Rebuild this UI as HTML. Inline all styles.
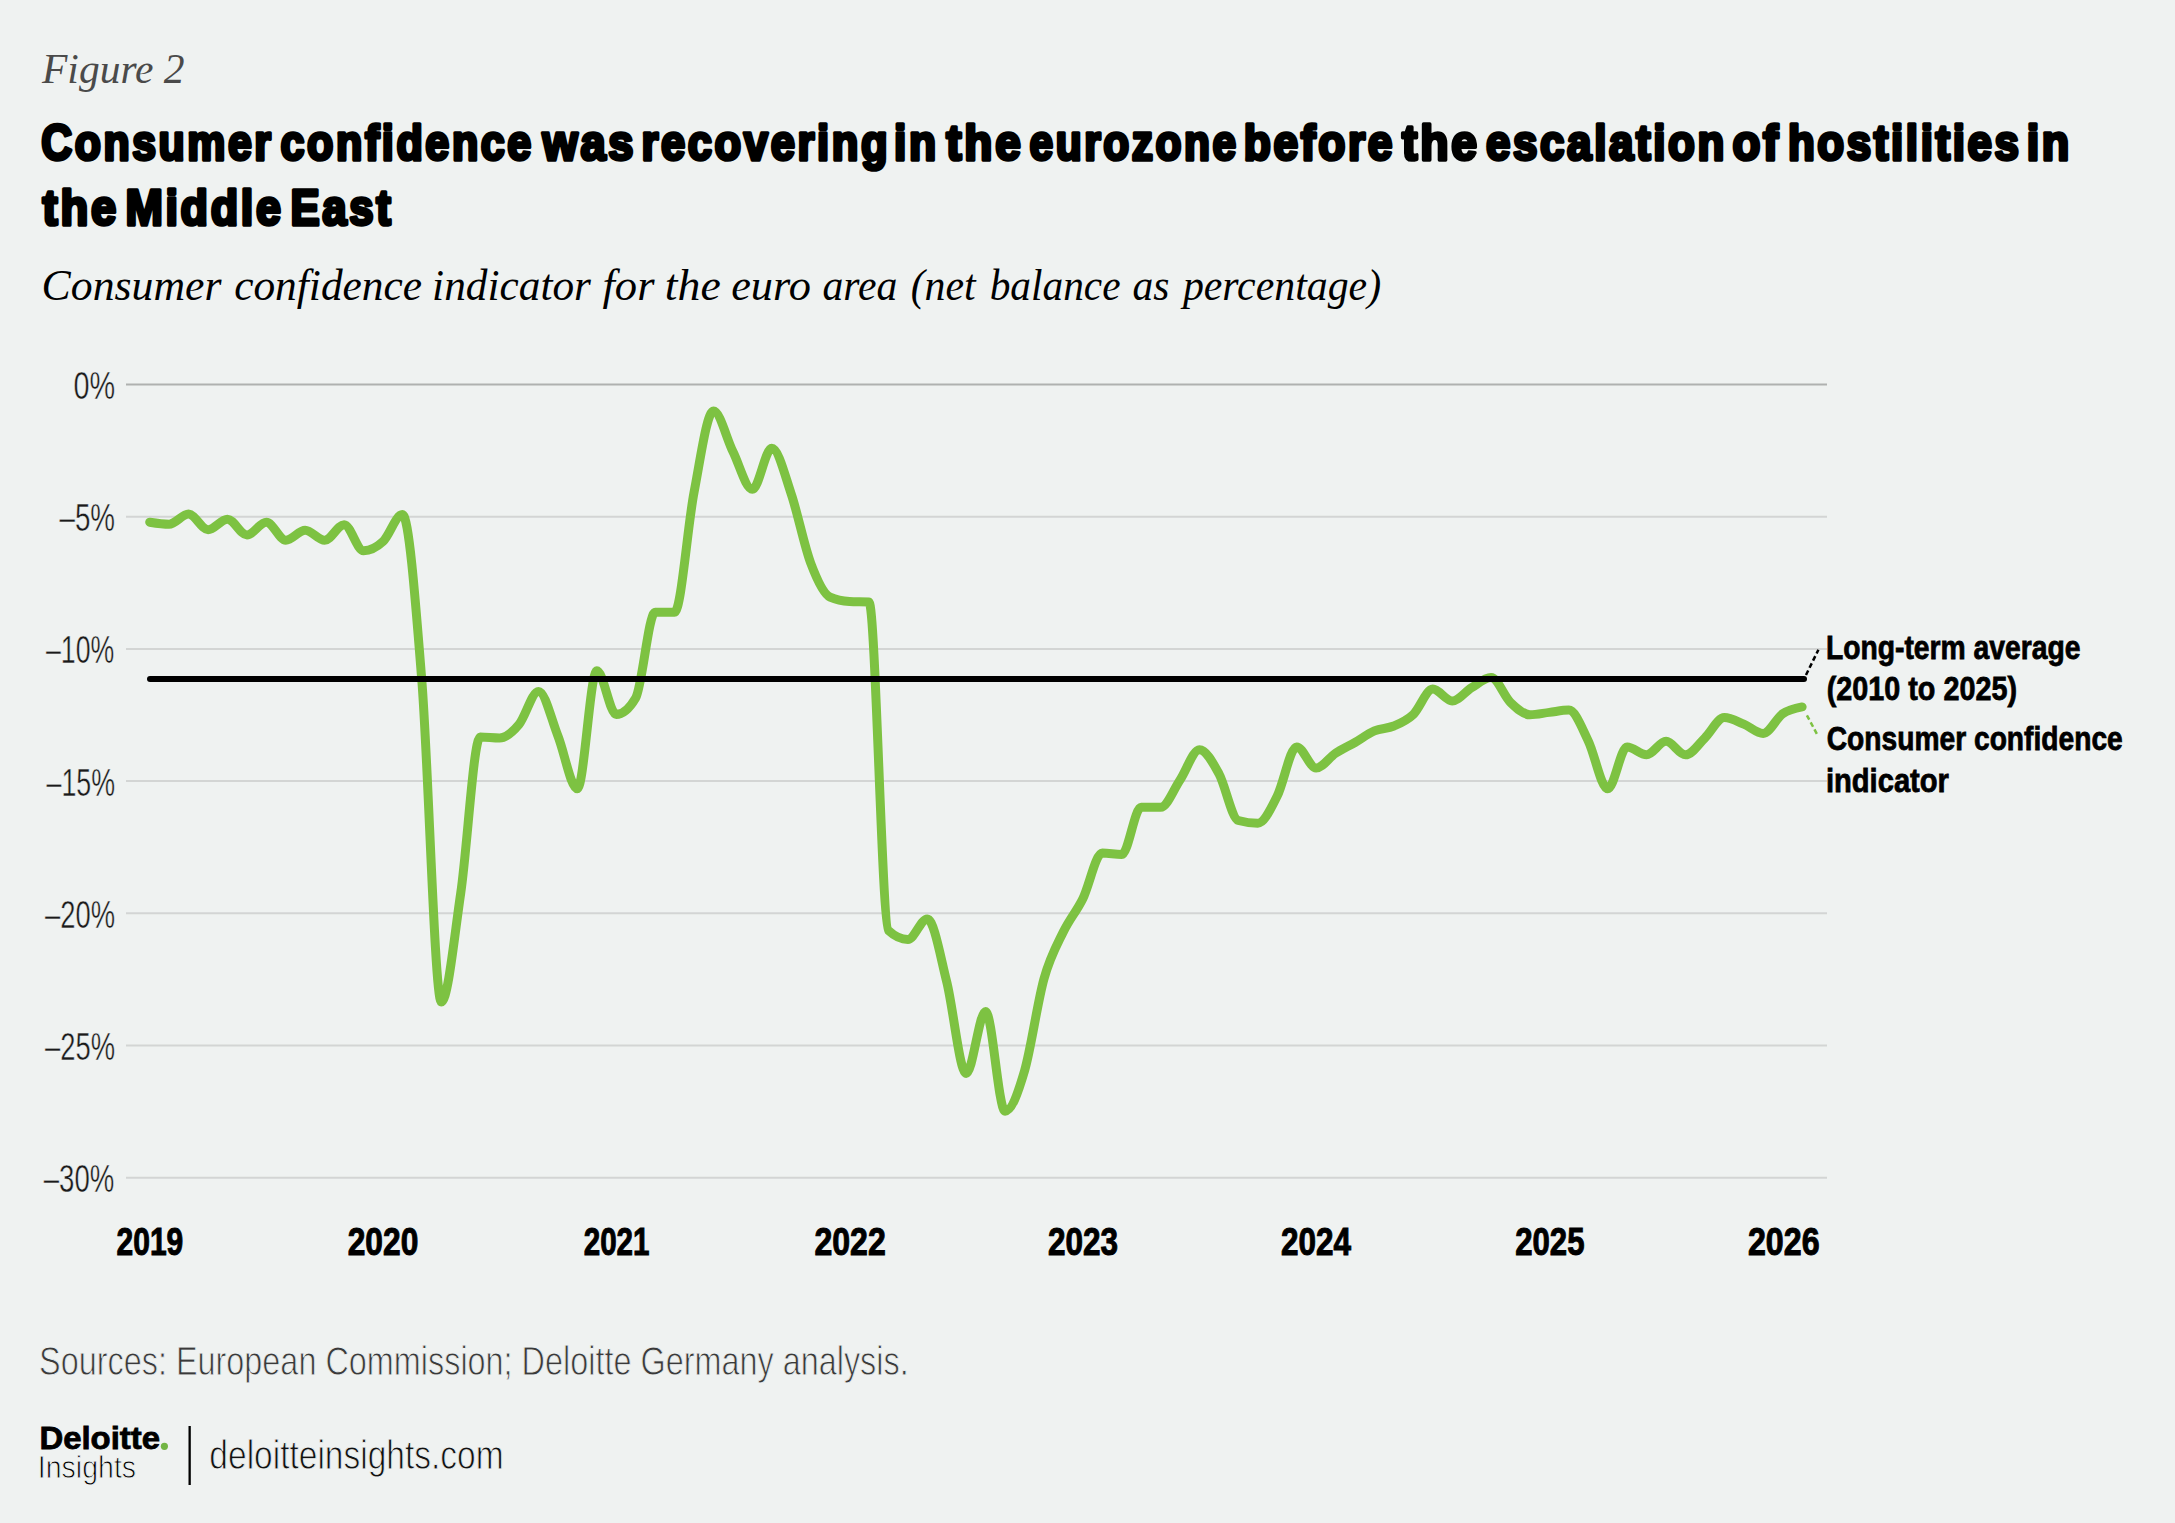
<!DOCTYPE html>
<html><head><meta charset="utf-8">
<style>
html,body{margin:0;padding:0;background:#eff2f1;}
body{width:2175px;height:1523px;overflow:hidden;}
svg{display:block;}
text{font-family:"Liberation Sans",sans-serif;}
.serif{font-family:"Liberation Serif",serif;font-style:italic;}
.yl{font-size:39.5px;fill:#1a1a1a;stroke:#eff2f1;stroke-width:0.45px;}
.xl{font-size:38px;font-weight:bold;fill:#000;stroke:#000;stroke-width:1;}
.lg{font-size:34px;font-weight:bold;fill:#000;stroke:#000;stroke-width:0.8;}
</style></head>
<body>
<svg width="2175" height="1523" viewBox="0 0 2175 1523">
<rect width="2175" height="1523" fill="#eff2f1"/>
<line x1="126" y1="384.5" x2="1827" y2="384.5" stroke="#afb1b0" stroke-width="2"/>
<line x1="126" y1="516.7" x2="1827" y2="516.7" stroke="#d3d5d4" stroke-width="2"/>
<line x1="126" y1="648.9" x2="1827" y2="648.9" stroke="#d3d5d4" stroke-width="2"/>
<line x1="126" y1="781.1" x2="1827" y2="781.1" stroke="#d3d5d4" stroke-width="2"/>
<line x1="126" y1="913.3" x2="1827" y2="913.3" stroke="#d3d5d4" stroke-width="2"/>
<line x1="126" y1="1045.5" x2="1827" y2="1045.5" stroke="#d3d5d4" stroke-width="2"/>
<line x1="126" y1="1177.7" x2="1827" y2="1177.7" stroke="#d3d5d4" stroke-width="2"/>

<path d="M149.70,522.20C156.18,523.20 162.66,524.20 169.14,524.20C175.62,524.20 182.10,514.10 188.58,514.10C195.06,514.10 201.54,529.70 208.02,529.70C214.50,529.70 220.98,519.20 227.46,519.20C233.94,519.20 240.42,535.00 246.90,535.00C253.38,535.00 259.86,522.20 266.34,522.20C272.82,522.20 279.30,540.20 285.78,540.20C292.26,540.20 298.74,530.20 305.22,530.20C311.70,530.20 318.18,540.30 324.66,540.30C331.14,540.30 337.62,524.70 344.10,524.70C350.58,524.70 357.06,550.70 363.54,550.70C370.02,550.70 376.50,547.53 382.98,541.50C389.46,535.47 395.94,514.50 402.42,514.50C408.90,514.50 415.38,599.75 421.86,681.00C428.34,762.25 434.82,1002.00 441.30,1002.00C447.78,1002.00 454.26,937.17 460.74,893.00C467.22,848.83 473.70,737.00 480.18,737.00C486.66,737.00 493.14,738.00 499.62,738.00C506.10,738.00 512.58,732.07 519.06,724.30C525.54,716.53 532.02,691.40 538.50,691.40C544.98,691.40 551.46,719.77 557.94,736.00C564.42,752.23 570.90,788.80 577.38,788.80C583.86,788.80 590.34,670.70 596.82,670.70C603.30,670.70 609.78,714.50 616.26,714.50C622.74,714.50 629.22,709.00 635.70,698.00C642.18,687.00 648.66,612.20 655.14,612.20C661.62,612.20 668.10,612.20 674.58,612.20C681.06,612.20 687.54,525.92 694.02,492.40C700.50,458.88 706.98,411.10 713.46,411.10C719.94,411.10 726.42,438.47 732.90,451.50C739.38,464.53 745.86,489.30 752.34,489.30C758.82,489.30 765.30,448.30 771.78,448.30C778.26,448.30 784.74,474.88 791.22,494.00C797.70,513.12 804.18,545.80 810.66,563.00C817.14,580.20 823.62,594.33 830.10,597.20C836.58,600.07 843.06,601.17 849.54,601.50C856.02,601.83 862.50,601.67 868.98,602.00C875.46,602.33 881.94,924.50 888.42,930.50C894.90,936.50 901.38,939.50 907.86,939.50C914.34,939.50 920.82,918.90 927.30,918.90C933.78,918.90 940.26,956.05 946.74,981.80C953.22,1007.55 959.70,1073.40 966.18,1073.40C972.66,1073.40 979.14,1011.40 985.62,1011.40C992.10,1011.40 998.58,1111.20 1005.06,1111.20C1011.54,1111.20 1018.02,1093.03 1024.50,1071.00C1030.98,1048.97 1037.46,1002.20 1043.94,979.00C1050.42,955.80 1056.90,945.18 1063.38,931.80C1069.86,918.42 1076.34,911.83 1082.82,898.70C1089.30,885.57 1095.78,853.00 1102.26,853.00C1108.74,853.00 1115.22,854.60 1121.70,854.60C1128.18,854.60 1134.66,807.30 1141.14,807.30C1147.62,807.30 1154.10,807.30 1160.58,807.30C1167.06,807.30 1173.54,789.60 1180.02,780.00C1186.50,770.40 1192.98,749.70 1199.46,749.70C1205.94,749.70 1212.42,761.80 1218.90,773.60C1225.38,785.40 1231.86,818.70 1238.34,820.50C1244.82,822.30 1251.30,823.20 1257.78,823.20C1264.26,823.20 1270.74,808.72 1277.22,796.00C1283.70,783.28 1290.18,746.90 1296.66,746.90C1303.14,746.90 1309.62,768.00 1316.10,768.00C1322.58,768.00 1329.06,757.55 1335.54,753.30C1342.02,749.05 1348.50,746.23 1354.98,742.50C1361.46,738.77 1367.94,733.65 1374.42,730.90C1380.90,728.15 1387.38,728.75 1393.86,726.00C1400.34,723.25 1406.82,720.55 1413.30,714.40C1419.78,708.25 1426.26,689.10 1432.74,689.10C1439.22,689.10 1445.70,701.00 1452.18,701.00C1458.66,701.00 1465.14,691.60 1471.62,687.70C1478.10,683.80 1484.58,677.60 1491.06,677.60C1497.54,677.60 1504.02,696.20 1510.50,702.40C1516.98,708.60 1523.46,714.80 1529.94,714.80C1536.42,714.80 1542.90,713.18 1549.38,712.40C1555.86,711.62 1562.34,710.10 1568.82,710.10C1575.30,710.10 1581.78,727.80 1588.26,740.90C1594.74,754.00 1601.22,788.70 1607.70,788.70C1614.18,788.70 1620.66,746.90 1627.14,746.90C1633.62,746.90 1640.10,754.70 1646.58,754.70C1653.06,754.70 1659.54,741.30 1666.02,741.30C1672.50,741.30 1678.98,754.80 1685.46,754.80C1691.94,754.80 1698.42,744.10 1704.90,737.90C1711.38,731.70 1717.86,717.60 1724.34,717.60C1730.82,717.60 1737.30,721.47 1743.78,724.10C1750.26,726.73 1756.74,733.40 1763.22,733.40C1769.70,733.40 1776.18,718.22 1782.66,713.80C1789.14,709.38 1795.62,708.14 1802.10,706.90" fill="none" stroke="#7dc242" stroke-width="9" stroke-linecap="round" stroke-linejoin="round"/>
<line x1="150" y1="679" x2="1804" y2="679" stroke="#000" stroke-width="6" stroke-linecap="round"/>
<line x1="1806" y1="675" x2="1818.4" y2="649.8" stroke="#000" stroke-width="2.5" stroke-dasharray="5 3"/>
<line x1="1806.9" y1="715.3" x2="1818" y2="736" stroke="#7dc242" stroke-width="2.5" stroke-dasharray="5 3"/>
<circle cx="164.4" cy="1446.3" r="3.6" fill="#72b544"/>
<rect x="188.5" y="1426" width="2.3" height="59" fill="#000"/>
<text x="42.00" y="83.2" class="serif" font-size="42" fill="#4a4a4a" textLength="142.56" lengthAdjust="spacingAndGlyphs">Figure 2</text>
<text x="41.22" y="159.7" font-size="50" font-weight="bold" fill="#000" stroke="#000" stroke-width="3.6" stroke-linejoin="round" letter-spacing="3" textLength="232.38" lengthAdjust="spacingAndGlyphs">Consumer</text>
<text x="280.52" y="159.7" font-size="50" font-weight="bold" fill="#000" stroke="#000" stroke-width="3.6" stroke-linejoin="round" letter-spacing="3" textLength="253.40" lengthAdjust="spacingAndGlyphs">confidence</text>
<text x="542.62" y="159.7" font-size="50" font-weight="bold" fill="#000" stroke="#000" stroke-width="3.6" stroke-linejoin="round" letter-spacing="3" textLength="93.56" lengthAdjust="spacingAndGlyphs">was</text>
<text x="641.40" y="159.7" font-size="50" font-weight="bold" fill="#000" stroke="#000" stroke-width="3.6" stroke-linejoin="round" letter-spacing="3" textLength="248.82" lengthAdjust="spacingAndGlyphs">recovering</text>
<text x="893.92" y="159.7" font-size="50" font-weight="bold" fill="#000" stroke="#000" stroke-width="3.6" stroke-linejoin="round" letter-spacing="3" textLength="44.78" lengthAdjust="spacingAndGlyphs">in</text>
<text x="946.32" y="159.7" font-size="50" font-weight="bold" fill="#000" stroke="#000" stroke-width="3.6" stroke-linejoin="round" letter-spacing="3" textLength="77.10" lengthAdjust="spacingAndGlyphs">the</text>
<text x="1029.50" y="159.7" font-size="50" font-weight="bold" fill="#000" stroke="#000" stroke-width="3.6" stroke-linejoin="round" letter-spacing="3" textLength="209.16" lengthAdjust="spacingAndGlyphs">eurozone</text>
<text x="1243.66" y="159.7" font-size="50" font-weight="bold" fill="#000" stroke="#000" stroke-width="3.6" stroke-linejoin="round" letter-spacing="3" textLength="151.50" lengthAdjust="spacingAndGlyphs">before</text>
<text x="1402.06" y="159.7" font-size="50" font-weight="bold" fill="#000" stroke="#000" stroke-width="3.6" stroke-linejoin="round" letter-spacing="3" textLength="77.86" lengthAdjust="spacingAndGlyphs">the</text>
<text x="1485.98" y="159.7" font-size="50" font-weight="bold" fill="#000" stroke="#000" stroke-width="3.6" stroke-linejoin="round" letter-spacing="3" textLength="241.00" lengthAdjust="spacingAndGlyphs">escalation</text>
<text x="1732.52" y="159.7" font-size="50" font-weight="bold" fill="#000" stroke="#000" stroke-width="3.6" stroke-linejoin="round" letter-spacing="3" textLength="48.50" lengthAdjust="spacingAndGlyphs">of</text>
<text x="1787.92" y="159.7" font-size="50" font-weight="bold" fill="#000" stroke="#000" stroke-width="3.6" stroke-linejoin="round" letter-spacing="3" textLength="233.74" lengthAdjust="spacingAndGlyphs">hostilities</text>
<text x="2026.66" y="159.7" font-size="50" font-weight="bold" fill="#000" stroke="#000" stroke-width="3.6" stroke-linejoin="round" letter-spacing="3" textLength="45.30" lengthAdjust="spacingAndGlyphs">in</text>
<text x="42.60" y="224.8" font-size="50" font-weight="bold" fill="#000" stroke="#000" stroke-width="3.6" stroke-linejoin="round" letter-spacing="3" textLength="76.30" lengthAdjust="spacingAndGlyphs">the</text>
<text x="125.40" y="224.8" font-size="50" font-weight="bold" fill="#000" stroke="#000" stroke-width="3.6" stroke-linejoin="round" letter-spacing="3" textLength="158.22" lengthAdjust="spacingAndGlyphs">Middle</text>
<text x="290.40" y="224.8" font-size="50" font-weight="bold" fill="#000" stroke="#000" stroke-width="3.6" stroke-linejoin="round" letter-spacing="3" textLength="102.94" lengthAdjust="spacingAndGlyphs">East</text>
<text x="41.60" y="300.3" class="serif" font-size="44" fill="#000" textLength="179.92" lengthAdjust="spacingAndGlyphs">Consumer</text>
<text x="234.18" y="300.3" class="serif" font-size="44" fill="#000" textLength="187.88" lengthAdjust="spacingAndGlyphs">confidence</text>
<text x="432.12" y="300.3" class="serif" font-size="44" fill="#000" textLength="158.86" lengthAdjust="spacingAndGlyphs">indicator</text>
<text x="602.48" y="300.3" class="serif" font-size="44" fill="#000" textLength="52.02" lengthAdjust="spacingAndGlyphs">for</text>
<text x="664.86" y="300.3" class="serif" font-size="44" fill="#000" textLength="55.94" lengthAdjust="spacingAndGlyphs">the</text>
<text x="731.16" y="300.3" class="serif" font-size="44" fill="#000" textLength="79.66" lengthAdjust="spacingAndGlyphs">euro</text>
<text x="822.44" y="300.3" class="serif" font-size="44" fill="#000" textLength="74.90" lengthAdjust="spacingAndGlyphs">area</text>
<text x="910.68" y="300.3" class="serif" font-size="44" fill="#000" textLength="65.04" lengthAdjust="spacingAndGlyphs">(net</text>
<text x="989.66" y="300.3" class="serif" font-size="44" fill="#000" textLength="130.88" lengthAdjust="spacingAndGlyphs">balance</text>
<text x="1132.42" y="300.3" class="serif" font-size="44" fill="#000" textLength="36.90" lengthAdjust="spacingAndGlyphs">as</text>
<text x="1182.88" y="300.3" class="serif" font-size="44" fill="#000" textLength="198.20" lengthAdjust="spacingAndGlyphs">percentage)</text>
<text x="73.42" y="399.0" class="yl" textLength="41.66" lengthAdjust="spacingAndGlyphs">0%</text>
<text x="59.48" y="531.2" class="yl" textLength="55.60" lengthAdjust="spacingAndGlyphs">–5%</text>
<text x="46.00" y="663.4" class="yl" textLength="68.28" lengthAdjust="spacingAndGlyphs">–10%</text>
<text x="46.48" y="795.6" class="yl" textLength="68.60" lengthAdjust="spacingAndGlyphs">–15%</text>
<text x="45.00" y="927.8" class="yl" textLength="70.08" lengthAdjust="spacingAndGlyphs">–20%</text>
<text x="45.00" y="1060.0" class="yl" textLength="70.08" lengthAdjust="spacingAndGlyphs">–25%</text>
<text x="43.74" y="1192.2" class="yl" textLength="70.54" lengthAdjust="spacingAndGlyphs">–30%</text>
<text x="116.50" y="1255.1" class="xl" textLength="66.78" lengthAdjust="spacingAndGlyphs">2019</text>
<text x="347.72" y="1255.1" class="xl" textLength="70.56" lengthAdjust="spacingAndGlyphs">2020</text>
<text x="583.72" y="1255.1" class="xl" textLength="65.78" lengthAdjust="spacingAndGlyphs">2021</text>
<text x="814.44" y="1255.1" class="xl" textLength="71.36" lengthAdjust="spacingAndGlyphs">2022</text>
<text x="1047.96" y="1255.1" class="xl" textLength="70.06" lengthAdjust="spacingAndGlyphs">2023</text>
<text x="1280.98" y="1255.1" class="xl" textLength="70.00" lengthAdjust="spacingAndGlyphs">2024</text>
<text x="1515.20" y="1255.1" class="xl" textLength="69.30" lengthAdjust="spacingAndGlyphs">2025</text>
<text x="1747.96" y="1255.1" class="xl" textLength="71.60" lengthAdjust="spacingAndGlyphs">2026</text>
<text x="1825.92" y="658.6" class="lg" textLength="254.60" lengthAdjust="spacingAndGlyphs">Long-term average</text>
<text x="1826.72" y="699.6" class="lg" textLength="190.30" lengthAdjust="spacingAndGlyphs">(2010 to 2025)</text>
<text x="1826.72" y="750.4" class="lg" textLength="296.08" lengthAdjust="spacingAndGlyphs">Consumer confidence</text>
<text x="1825.92" y="791.5" class="lg" textLength="123.06" lengthAdjust="spacingAndGlyphs">indicator</text>
<text x="39.08" y="1375.3" font-size="40.5" fill="#3a3a3a" stroke="#eff2f1" stroke-width="0.9" textLength="869.62" lengthAdjust="spacingAndGlyphs">Sources: European Commission; Deloitte Germany analysis.</text>
<text x="39.40" y="1449.3" font-size="32" font-weight="bold" fill="#000" stroke="#000" stroke-width="0.8" textLength="120.62" lengthAdjust="spacingAndGlyphs">Deloitte</text>
<text x="37.80" y="1477.5" font-size="30.5" fill="#000" stroke="#eff2f1" stroke-width="0.9" textLength="98.28" lengthAdjust="spacingAndGlyphs">Insights</text>
<text x="209.36" y="1468.8" font-size="40" fill="#111" stroke="#eff2f1" stroke-width="0.9" textLength="294.28" lengthAdjust="spacingAndGlyphs">deloitteinsights.com</text>

</svg>
</body></html>
